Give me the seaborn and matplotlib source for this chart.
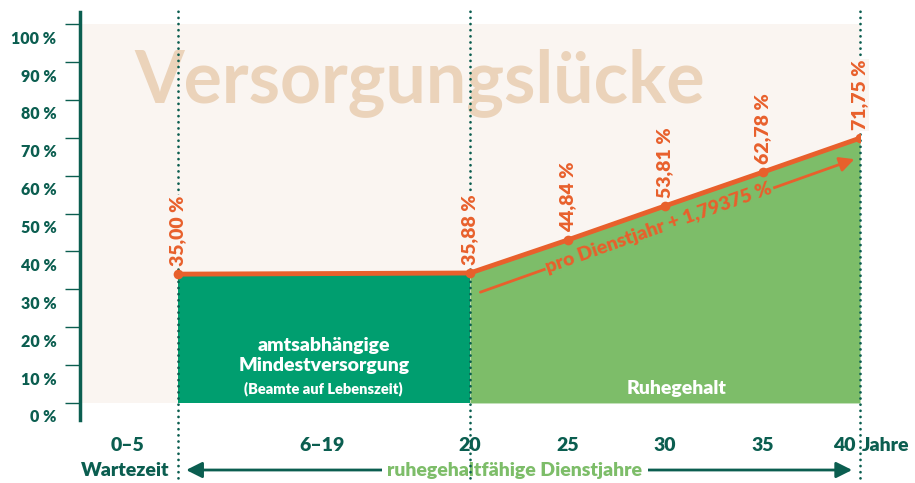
import numpy as np
import pandas as pd
import matplotlib
matplotlib.use('Agg')
import matplotlib.pyplot as plt
import seaborn as sns
from matplotlib.transforms import ScaledTranslation

jahre = [5, 20, 25, 30, 35, 40]
linie_prozent = [34.0, 34.3, 43.0, 52.0, 60.9, 69.9]
werte_labels = ['35,00 %', '35,88 %', '44,84 %', '53,81 %', '62,78 %', '71,75 %']
mindest_jahre = [5, 20]
mindest_prozent = [34.0, 34.0]
ruhe_jahre = [20, 25, 30, 35, 40]
ruhe_prozent = [34.3, 43.0, 52.0, 60.9, 69.9]
y_ticks = [0, 10, 20, 30, 40, 50, 60, 70, 80, 90, 100]
y_labels = ['0 %', '10 %', '20 %', '30 %', '40 %', '50 %', '60 %', '70 %', '80 %', '90 %', '100 %']
x_labels = ['0–5', '6–19', '20', '25', '30', '35', '40']

# Farben
teal = '#0b5e50'
orange = '#e8602c'
beige = '#faf5f1'
titel_farbe = '#ebd3ba'
dunkelgruen = '#009e6f'
hellgruen = '#7dbd69'

sns.set_theme(style='white')
plt.rcParams['font.family'] = ['Lato', 'DejaVu Sans']

fig = plt.figure(figsize=(9.15, 4.83), dpi=100)
ax = fig.add_axes([80 / 915, 63 / 483, 780 / 915, 408 / 483])
ax.set_xlim(0, 40)
ax.set_ylim(-4.5, 103.2)

# Hintergrund (Versorgungslücke)
ax.fill_between([0, 40], [100, 100], color=beige, lw=0, zorder=0)
ax.text(17.4, 79.4, 'Versorgungslücke', color=titel_farbe, fontsize=51.5,
        fontweight='bold', ha='center', va='baseline', zorder=1)

# Flächen
ax.fill_between(mindest_jahre, mindest_prozent, color=dunkelgruen, lw=0, zorder=2)
ax.fill_between(ruhe_jahre, ruhe_prozent, color=hellgruen, lw=0, zorder=2)

# gepunktete Linien
for x in [5, 20, 40]:
    ax.plot([x, x], [-25, 104.5], color=teal, lw=2, ls=(0, (0.01, 2.2)),
            dash_capstyle='round', clip_on=False, zorder=4)

# Versorgungslinie
sns.lineplot(x=jahre, y=linie_prozent, color=orange, lw=3.5, marker='o',
             markersize=7, markeredgewidth=0, ax=ax, zorder=5)
for x, y, lab in zip(jahre, linie_prozent, werte_labels):
    ax.annotate(lab, (x, y), xytext=(0, 6), textcoords='offset points',
                rotation=90, ha='center', va='bottom', color=orange,
                fontsize=14, fontweight='heavy', zorder=6,
                bbox=dict(facecolor=beige, edgecolor='none', pad=0.5))

# Pfeil pro Dienstjahr
p0 = (20.4, 29.0)
p1 = (39.85, 64.6)
ax.annotate('', xy=p1, xytext=p0,
            arrowprops=dict(arrowstyle='-|>', color=orange, lw=2, mutation_scale=22),
            zorder=3)
d0 = ax.transData.transform(p0)
d1 = ax.transData.transform(p1)
winkel = np.degrees(np.arctan2(d1[1] - d0[1], d1[0] - d0[0]))
ax.text(29.7, 46.2, 'pro Dienstjahr + 1,79375 %', rotation=winkel,
        rotation_mode='anchor', ha='center', va='center', color=orange,
        fontsize=14, fontweight='heavy', zorder=3,
        bbox=dict(facecolor=hellgruen, edgecolor='none', pad=1))

# Flächentexte
ax.text(12.5, 12.6, 'amtsabhängige\nMindestversorgung', color='white',
        fontsize=14, fontweight='heavy', ha='center', va='center',
        linespacing=1.2, zorder=3)
ax.text(12.5, 3.8, '(Beamte auf Lebenszeit)', color='white', fontsize=10.5,
        fontweight='heavy', ha='center', va='center', zorder=3)
ax.text(30.6, 3.8, 'Ruhegehalt', color='white', fontsize=14,
        fontweight='heavy', ha='center', va='center', zorder=3)

# Achsen
for s in ['top', 'right', 'bottom']:
    ax.spines[s].set_visible(False)
ax.spines['left'].set_color(teal)
ax.spines['left'].set_linewidth(2.5)
ax.set_yticks(y_ticks)
ax.set_yticklabels(y_labels)
ax.tick_params(axis='y', left=True, length=11, width=1, color=teal, pad=6,
               labelsize=11.5, labelcolor=teal)
for lab in ax.get_yticklabels():
    lab.set_fontweight('heavy')
    lab.set_transform(lab.get_transform() + ScaledTranslation(0, -0.13, fig.dpi_scale_trans))

ax.set_xticks([2.45, 12.4, 20, 25, 30, 35, 40])
ax.set_xticklabels(x_labels)
ax.tick_params(axis='x', bottom=False, length=0, pad=22.3, labelsize=14,
               labelcolor=teal)
for lab in ax.get_xticklabels():
    lab.set_fontweight('heavy')
    lab.set_va('baseline')
xl = ax.get_xticklabels()[-1]
xl.set_transform(xl.get_transform() + ScaledTranslation(-0.16, 0, fig.dpi_scale_trans))

ax.text(40.1, -12.7, 'Jahre', color=teal, fontsize=14, fontweight='heavy',
        ha='left', va='baseline', clip_on=False)

# untere Zeile
yb = -17.7
ax.annotate('', xy=(39.74, yb), xytext=(5.3, yb), annotation_clip=False,
            arrowprops=dict(arrowstyle='<|-|>', color=teal, lw=2, mutation_scale=24))
ax.text(22.3, yb, 'ruhegehaltfähige Dienstjahre', color=hellgruen, fontsize=14,
        fontweight='heavy', ha='center', va='center', clip_on=False,
        bbox=dict(facecolor='white', edgecolor='none', pad=4))
ax.text(4.6, yb, 'Wartezeit', color=teal, fontsize=14, fontweight='heavy',
        ha='right', va='center', clip_on=False)

plt.savefig('out.png', dpi=100)
